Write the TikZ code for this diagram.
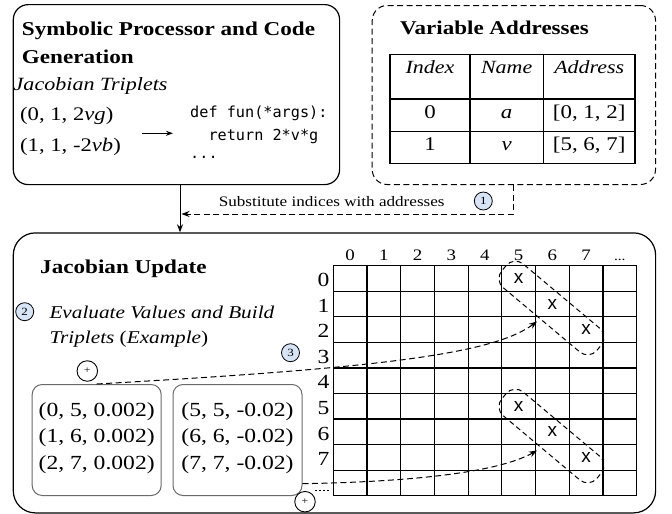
\documentclass[tikz,border=0pt]{standalone}
\usepackage{fontspec}
\setmainfont{Liberation Serif}[FakeStretch=1.18]
\newfontfamily\codefont{DejaVu Sans Mono}
\newfontfamily\xfont{Liberation Sans}
\usetikzlibrary{arrows.meta,calc}
\definecolor{numfill}{HTML}{D6E4F5}
\definecolor{tripgray}{HTML}{6A6A6A}
\newcommand\myfs[1]{\fontsize{#1}{#1}\selectfont}
\begin{document}
\begin{tikzpicture}[x=1pt,y=-1pt,
  bigbox/.style={draw, line width=1.2pt, inner sep=0pt, anchor=north west},
  tripbox/.style={draw=tripgray, line width=1pt, rounded corners=10pt, inner sep=0pt, anchor=north west, minimum width=129pt, minimum height=111pt},
  txt/.style={anchor=base west, inner sep=0pt},
  ctxt/.style={anchor=base, inner sep=0pt},
  numcirc/.style={circle, draw, fill=numfill, line width=0.8pt, minimum size=18pt, inner sep=0pt, font=\myfs{11}},
  pluscirc/.style={circle, draw, line width=0.9pt, minimum size=20.5pt, inner sep=0pt, font=\myfs{10}},
  dsh/.style={dash pattern=on 6pt off 3.5pt, line width=1pt},
  arr/.style={-{Stealth[length=8pt,width=6pt]}},
  xmark/.style={inner sep=0pt, font=\xfont\myfs{19}},
  selbox/.style={draw, dash pattern=on 5pt off 3.5pt, line width=1pt, rounded corners=12pt, minimum width=124pt, minimum height=31pt, inner sep=0pt, rotate=-40}
]
\useasboundingbox (0,0) rectangle (672,514);

% ---------- top left box ----------
\node[bigbox, rounded corners=15pt, minimum width=326.3pt, minimum height=180pt] (sp) at (12.7,4) {};
\node[txt, font=\bfseries\myfs{19.6}] (sptitle1) at (21.7,35) {Symbolic Processor and Code};
\node[txt, font=\bfseries\myfs{19.6}] (sptitle2) at (21.7,63) {Generation};
\node[txt, font=\itshape\myfs{18.7}] (jt) at (13.5,90.7) {Jacobian Triplets};
\node[txt, font=\myfs{19.2}] (jt1) at (20,120) {(0, 1, 2\textit{vg})};
\node[txt, font=\myfs{19.2}] (jt2) at (20,151.7) {(1, 1, -2\textit{vb})};
\coordinate (ca) at (141.7,133.3);
\coordinate (cb) at (173,133.3);
\draw[line width=1pt, -{Stealth[length=7pt,width=5pt]}] (ca) -- (cb);
\node[txt, font=\codefont\myfs{15.2}] (code1) at (190,117.5) {def fun(*args):};
\node[txt, font=\codefont\myfs{15.2}] (code2) at (190,140) {\ \ return 2*v*g};
\node[txt, font=\codefont\myfs{15.2}] (code3) at (190,158) {...};

% ---------- variable addresses ----------
\node[bigbox, dash pattern=on 6pt off 3.5pt, line width=1pt, rounded corners=15pt, minimum width=283.3pt, minimum height=179pt] (va) at (371.7,5) {};
\node[txt, font=\bfseries\myfs{19.5}] (vatitle) at (400,34.3) {Variable Addresses};
\draw[line width=1.2pt] (390,54.3) rectangle (635,163.3);
\draw[line width=1.2pt] (390,99) -- (635,99) (390,131.7) -- (635,131.7)
  (470,54.3) -- (470,163.3) (543.3,54.3) -- (543.3,163.3);
\node[ctxt, font=\itshape\myfs{18.6}] (h1) at (430,73) {Index};
\node[ctxt, font=\itshape\myfs{18.6}] (h2) at (506.7,73) {Name};
\node[ctxt, font=\itshape\myfs{18.6}] (h3) at (589.2,73) {Address};
\node[ctxt, font=\myfs{19.4}] (r01) at (430,118.3) {0};
\node[ctxt, font=\myfs{19.4}] (r02) at (506.7,118.3) {\textit{a}};
\node[ctxt, font=\myfs{19.4}] (r03) at (589.2,118.3) {[0, 1, 2]};
\node[ctxt, font=\myfs{19.4}] (r11) at (430,150) {1};
\node[ctxt, font=\myfs{19.4}] (r12) at (506.7,150) {\textit{v}};
\node[ctxt, font=\myfs{19.4}] (r13) at (589.2,150) {[5, 6, 7]};

% ---------- bottom box ----------
\node[bigbox, rounded corners=22pt, minimum width=642.3pt, minimum height=280pt] (ju) at (12.7,232.3) {};

% connectors between top and bottom
\coordinate (ax) at (180,0);
\draw[line width=1pt, arr] (sp.south -| ax) -- (ju.north -| ax);
\coordinate (dx) at (513.3,0);
\coordinate (dturn) at (513.3,214);
\coordinate (dend) at (181.5,214);
\draw[dsh, arr] (va.south -| dx) -- (dturn) -- (dend);
\node[ctxt, font=\myfs{14.5}] (sublab) at (331.7,206) {Substitute indices with addresses};
\node[numcirc] (c1) at (483.3,201) {1};

\node[txt, font=\bfseries\myfs{19.6}] (jutitle) at (40,273.3) {Jacobian Update};
\node[numcirc] (c2) at (24.7,311.7) {2};
\node[txt, font=\itshape\myfs{18}] (ev1) at (49.3,318.3) {Evaluate Values and Build};
\node[txt, font=\myfs{18}] (ev2) at (49.3,343.3) {\textit{Triplets} (\textit{Example})};
\node[numcirc] (c3) at (290.5,352.7) {3};

% triplet boxes
\node[tripbox] (tb1) at (31.7,384) {};
\node[tripbox] (tb2) at (172.5,384) {};
\foreach \t [count=\k] in {(0, 5, 0.002),(1, 6, 0.002),(2, 7, 0.002)}
  \node[ctxt, font=\myfs{20}] (ta\k) at ($(tb1.north)+(0,6.5+\k*26.2)$) {\t};
\foreach \t [count=\k] in {(5, 5, -0.02),(6, 6, -0.02),(7, 7, -0.02)}
  \node[ctxt, font=\myfs{20}] (tc\k) at ($(tb2.north)+(0,6.5+\k*26.2)$) {\t};

\node[pluscirc] (p1) at (87.3,371) {+};
\node[pluscirc] (p2) at (305,501.7) {+};

% grid
\foreach \i in {0,...,9}{
  \draw[line width=1.2pt] ({333.3+\i*33.7},265.7) -- ({333.3+\i*33.7},495.7);
  \draw[line width=1.2pt] (333.3,{265.7+\i*25.556}) -- (636.6,{265.7+\i*25.556});
}
\foreach \i in {0,...,7}{
  \node[ctxt, font=\myfs{16}] (col\i) at ({333.3+(\i+0.5)*33.7},260.7) {\i};
  \node[anchor=base east, inner sep=0pt, font=\myfs{20}] (row\i) at (329.5,{286.7+\i*25.556}) {\i};
}
\node[ctxt, font=\myfs{13}] (colmore) at ({333.3+8.5*33.7},260.7) {...};

% x marks
\foreach \r/\c in {0/5,1/6,2/7,5/5,6/6,7/7}
  \node[xmark] (x\r\c) at ({333.3+(\c+0.5)*33.7},{265.7+(\r+0.5)*25.556}) {x};

% selection shapes
\node[selbox] (sel1) at (551.5,308) {};
\node[selbox] (sel2) at (551.5,436) {};

% curved dashed connectors
\coordinate (tip1) at (537,321.5);
\coordinate (tip2) at (537,450.5);
\draw[dsh, arr] (tb1.north) .. controls (380,368) and (493,354) .. (tip1);
\draw[dsh, arr] ($(tb2.south east)+(0,-12.3)$) .. controls (400,482) and (495,474) .. (tip2);
\coordinate (dot1) at (315,490);
\coordinate (dot2) at (331,490);
\draw[line width=1pt, dash pattern=on 1.5pt off 2.5pt] (dot1) -- (dot2);
\end{tikzpicture}
\end{document}
